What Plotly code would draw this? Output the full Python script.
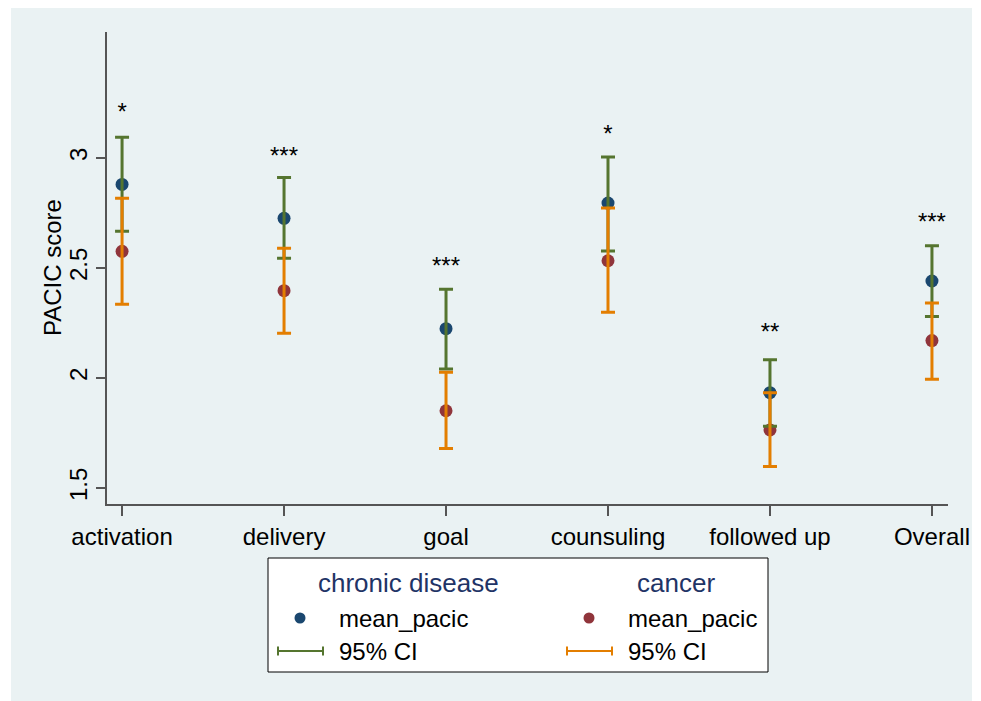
import plotly.graph_objects as go

# ---------------- data ----------------
categories = ["activation", "delivery", "goal", "counsuling", "followed up", "Overall"]
chronic_mean = [2.880, 2.726, 2.224, 2.795, 1.933, 2.441]
chronic_lo = [2.667, 2.544, 2.041, 2.577, 1.780, 2.280]
chronic_hi = [3.094, 2.911, 2.403, 3.005, 2.083, 2.601]
cancer_mean = [2.576, 2.397, 1.851, 2.533, 1.764, 2.170]
cancer_lo = [2.335, 2.203, 1.679, 2.299, 1.597, 1.994]
cancer_hi = [2.817, 2.590, 2.026, 2.773, 1.933, 2.341]
sig_labels = ["*", "***", "***", "*", "**", "***"]
sig_y = [3.2, 3.0, 2.5, 3.1, 2.2, 2.7]
y_ticks = [1.5, 2, 2.5, 3]
y_tick_text = ["1.5", "2", "2.5", "3"]

# ---------------- styles ----------------
BLUE = "#1a476f"
RED = "#90353b"
GREEN = "#55752f"
ORANGE = "#e37e00"
BG = "#eaf2f3"
AXIS = "#555555"
HEAD = "#1f3466"
FONT = "Liberation Sans, Arial, sans-serif"
FS = 24

OFF = 8  # page body margin
W, H = 981, 701
# target plot area in window pixels: x 107..948, y 32..504
L = 107 - OFF
T = 32 - OFF
R = W - (948 - OFF)
B = H - (504 - OFF)
PW = W - L - R
PH = H - T - B


def px_x(p):
    return (p - OFF - L) / PW


def px_y(p):
    return (H - B - (p - OFF)) / PH


fig = go.Figure()

# mean markers
fig.add_trace(go.Scatter(
    x=categories, y=chronic_mean, mode="markers",
    marker=dict(color=BLUE, size=13, line=dict(width=0)),
    name="chronic disease mean_pacic", showlegend=False))
fig.add_trace(go.Scatter(
    x=categories, y=cancer_mean, mode="markers",
    marker=dict(color=RED, size=13, line=dict(width=0)),
    name="cancer mean_pacic", showlegend=False))

# confidence intervals
fig.add_trace(go.Scatter(
    x=categories, y=chronic_mean, mode="markers",
    marker=dict(size=1, color="rgba(0,0,0,0)"),
    error_y=dict(type="data", symmetric=False,
                 array=[h - m for h, m in zip(chronic_hi, chronic_mean)],
                 arrayminus=[m - l for l, m in zip(chronic_lo, chronic_mean)],
                 color=GREEN, thickness=3, width=7),
    name="chronic disease 95% CI", showlegend=False, hoverinfo="skip"))
fig.add_trace(go.Scatter(
    x=categories, y=cancer_mean, mode="markers",
    marker=dict(size=1, color="rgba(0,0,0,0)"),
    error_y=dict(type="data", symmetric=False,
                 array=[h - m for h, m in zip(cancer_hi, cancer_mean)],
                 arrayminus=[m - l for l, m in zip(cancer_lo, cancer_mean)],
                 color=ORANGE, thickness=3, width=7),
    name="cancer 95% CI", showlegend=False, hoverinfo="skip"))

# significance stars
fig.add_trace(go.Scatter(
    x=categories, y=sig_y, mode="text", text=sig_labels,
    textposition="middle center",
    textfont=dict(family=FONT, size=FS, color="black"),
    showlegend=False, hoverinfo="skip"))

shapes = [
    # graph region background
    dict(type="rect", xref="paper", yref="paper",
         x0=px_x(11), x1=px_x(972), y0=px_y(720), y1=px_y(7),
         fillcolor=BG, line=dict(width=0), layer="below"),
    # legend box
    dict(type="rect", xref="paper", yref="paper",
         x0=px_x(268), x1=px_x(768), y0=px_y(672), y1=px_y(558),
         fillcolor="white", line=dict(color="black", width=1), layer="above"),
]

# legend symbols
for cx, col in [(300, BLUE), (589, RED)]:
    shapes.append(dict(type="circle", xref="paper", yref="paper",
                       xsizemode="pixel", ysizemode="pixel",
                       xanchor=px_x(cx), yanchor=px_y(618),
                       x0=-5.5, x1=5.5, y0=-5.5, y1=5.5,
                       fillcolor=col, line=dict(width=0)))
for x0, x1, col in [(278, 323, GREEN), (567, 612, ORANGE)]:
    shapes.append(dict(type="line", xref="paper", yref="paper",
                       x0=px_x(x0), x1=px_x(x1), y0=px_y(651), y1=px_y(651),
                       line=dict(color=col, width=2)))
    for xe in (x0, x1):
        shapes.append(dict(type="line", xref="paper", yref="paper",
                           x0=px_x(xe), x1=px_x(xe), y0=px_y(646.5), y1=px_y(655.5),
                           line=dict(color=col, width=2)))

annotations = [
    dict(text="PACIC score", x=px_x(52), y=px_y(268), xref="paper", yref="paper",
         xanchor="center", yanchor="middle", textangle=-90, showarrow=False,
         font=dict(family=FONT, size=FS, color="black")),
    dict(text="chronic disease", x=px_x(408), y=px_y(583), xref="paper", yref="paper",
         xanchor="center", yanchor="middle", showarrow=False,
         font=dict(family=FONT, size=26, color=HEAD)),
    dict(text="cancer", x=px_x(676), y=px_y(583), xref="paper", yref="paper",
         xanchor="center", yanchor="middle", showarrow=False,
         font=dict(family=FONT, size=26, color=HEAD)),
]
for tx, ty, label in [(337, 618, "mean_pacic"), (626, 618, "mean_pacic"),
                      (337, 651, "95% CI"), (626, 651, "95% CI")]:
    annotations.append(dict(text=label, x=px_x(tx), y=px_y(ty), xref="paper", yref="paper",
                            xanchor="left", yanchor="middle", showarrow=False,
                            font=dict(family=FONT, size=FS, color="black")))

fig.update_layout(
    width=W, height=H, autosize=False,
    margin=dict(l=L, r=R, t=T, b=B, pad=0),
    paper_bgcolor="white", plot_bgcolor="white",
    font=dict(family=FONT, size=FS, color="black"),
    shapes=shapes, annotations=annotations,
    showlegend=False,
    xaxis=dict(type="category", range=[-0.093, 5.099],
               showgrid=False, zeroline=False,
               showline=True, linecolor=AXIS, linewidth=1.5,
               ticks="outside", ticklen=10, tickcolor=AXIS, tickwidth=1.5,
               tickfont=dict(family=FONT, size=FS, color="black")),
    yaxis=dict(range=[1.427, 3.573], tickvals=y_ticks, ticktext=y_tick_text,
               tickangle=-90,
               showgrid=True, gridcolor=BG, gridwidth=2, zeroline=False,
               showline=True, linecolor=AXIS, linewidth=1.5,
               ticks="outside", ticklen=9, tickcolor=AXIS, tickwidth=1.5,
               tickfont=dict(family=FONT, size=FS, color="black")),
)

fig.write_html("out.html", config={"displayModeBar": False})
